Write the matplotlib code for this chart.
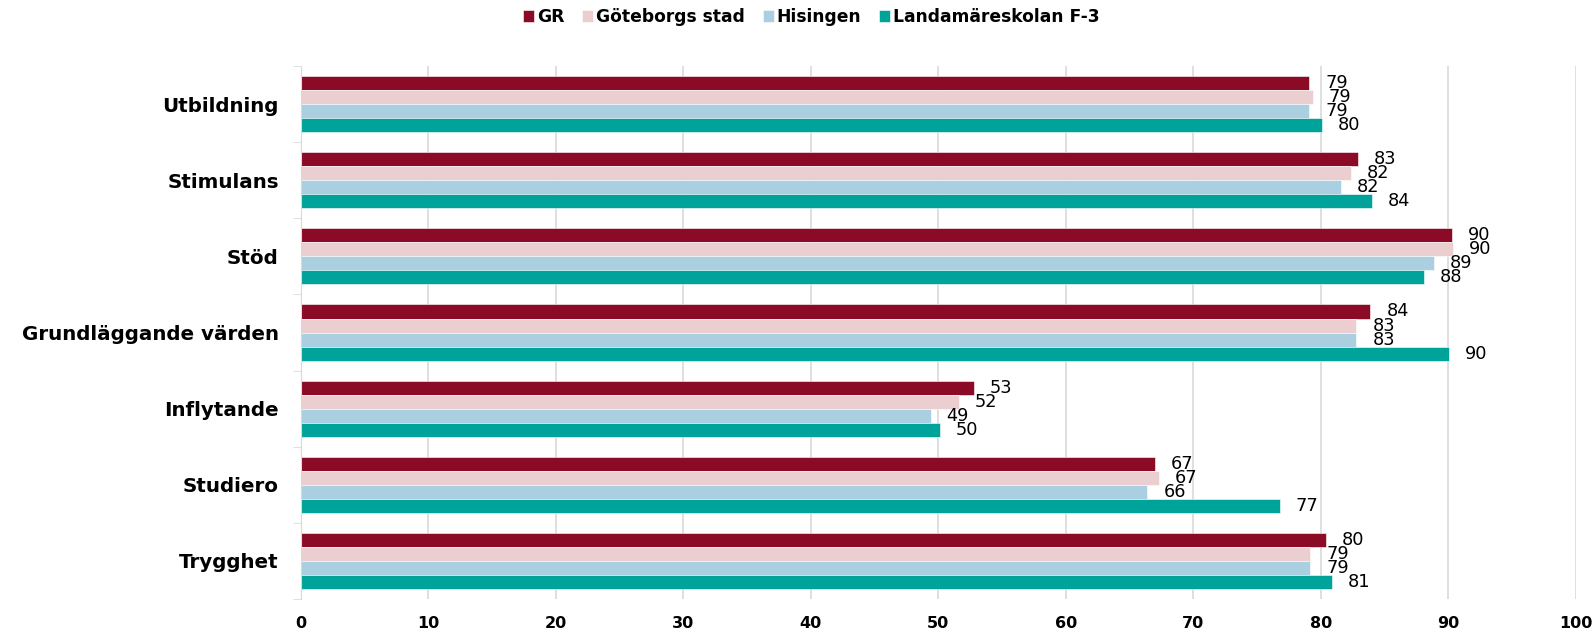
import numpy as np
import matplotlib.pyplot as plt

plt.rcParams['font.family'] = ['DejaVu Sans']

categories = ["Utbildning", "Stimulans", "Stöd", "Grundläggande värden",
              "Inflytande", "Studiero", "Trygghet"]
series_names = ["GR", "Göteborgs stad", "Hisingen", "Landamäreskolan F-3"]
gr = [79.1, 82.9, 90.3, 83.9, 52.8, 67.0, 80.4]
gbg = [79.4, 82.4, 90.4, 82.8, 51.6, 67.3, 79.2]
hisingen = [79.1, 81.6, 88.9, 82.8, 49.4, 66.4, 79.2]
landamare = [80.1, 84.0, 88.1, 90.1, 50.1, 76.8, 80.9]
colors = ["#8B0A25", "#EBCFD0", "#A9CFE0", "#00A39A"]

series = [gr, gbg, hisingen, landamare]

fig = plt.figure(figsize=(15.95, 6.3), dpi=100)
ax = fig.add_axes([0.1887, 0.0492, 0.9878 - 0.1887, 0.8952 - 0.0492])

y = np.arange(len(categories))
h = 0.184
for i, (vals, name, c) in enumerate(zip(series, series_names, colors)):
    pos = y - 1.5 * h + i * h
    ax.barh(pos, vals, height=h, color=c, label=name,
            edgecolor="white", linewidth=0.4)
    for p, v in zip(pos, vals):
        ax.annotate(f"{v:.0f}", (v, p), xytext=(11.5, 0), textcoords="offset points",
                    ha="left", va="center", fontsize=12.8, color="black")

ax.set_xlim(0, 100)
ax.set_ylim(len(categories) - 0.5, -0.5)
ax.set_xticks(np.arange(0, 101, 10))
ax.set_xticklabels([str(t) for t in range(0, 101, 10)], fontsize=11.5, fontweight="bold")
ax.set_yticks(y)
ax.set_yticklabels(categories, fontsize=14.3, fontweight="bold")
ax.set_yticks(np.arange(-0.5, len(categories), 1), minor=True)
ax.tick_params(axis="y", which="major", length=0, pad=16)
ax.tick_params(axis="y", which="minor", length=6, color="#D9D9D9")
ax.tick_params(axis="x", length=0, pad=12)

ax.grid(axis="x", color="#D9D9D9", linewidth=1.2)
ax.set_axisbelow(True)
for s in ["top", "right", "bottom"]:
    ax.spines[s].set_visible(False)
ax.spines["left"].set_color("#D9D9D9")

fig.legend(loc="center", bbox_to_anchor=(0.5086, 0.973), ncol=4, frameon=False,
           prop={"size": 12.3, "weight": "bold"},
           handlelength=0.65, handleheight=0.65,
           handletextpad=0.15, columnspacing=1.05)

fig.savefig("out.png", dpi=100)
